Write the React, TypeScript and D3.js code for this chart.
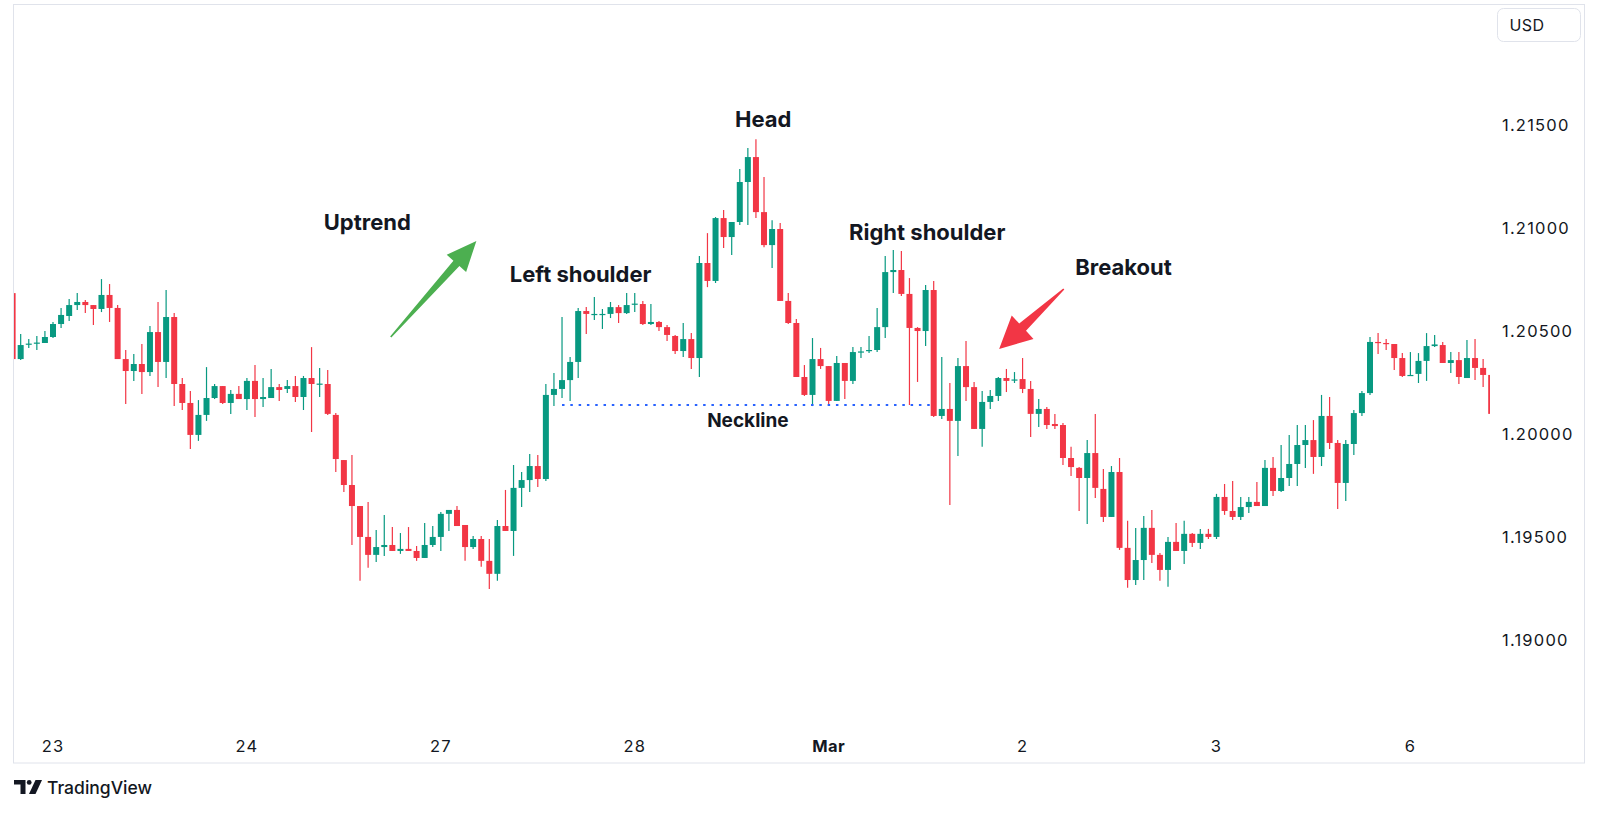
import * as d3 from "d3";

// hourly EURUSD-like candles
const opens = [
  1.20682, 1.20362, 1.20433, 1.20437, 1.2044, 1.20469, 1.20532, 1.20571, 1.20624, 1.20639,
  1.20624, 1.20605, 1.20673, 1.2061, 1.20362, 1.20304, 1.20338, 1.20299, 1.20493, 1.20348,
  1.20566, 1.20241, 1.20149, 1.19994, 1.20091, 1.20173, 1.20231, 1.20149, 1.20193, 1.20168,
  1.20256, 1.20168, 1.20173, 1.20226, 1.20217, 1.20231, 1.20178, 1.2027, 1.20239, 1.20241,
  1.20091, 1.19872, 1.19751, 1.19649, 1.19499, 1.19412, 1.1945, 1.1946, 1.19431, 1.19441,
  1.19431, 1.19397, 1.1946, 1.19499, 1.19611, 1.1963, 1.19557, 1.1945, 1.19489, 1.19383,
  1.1932, 1.19552, 1.19528, 1.19737, 1.19775, 1.19843, 1.1978, 1.20188, 1.20217, 1.2026,
  1.20348, 1.20595, 1.20576, 1.20576, 1.20581, 1.20614, 1.20585, 1.20627, 1.20629, 1.20532,
  1.20542, 1.20517, 1.20474, 1.20401, 1.20459, 1.20367, 1.20828, 1.20741, 1.21046, 1.20954,
  1.21027, 1.21221, 1.21342, 1.21075, 1.20915, 1.20993, 1.20644, 1.20537, 1.20275, 1.20188,
  1.20362, 1.20328, 1.20159, 1.20343, 1.20256, 1.20394, 1.20401, 1.20406, 1.20517, 1.20784,
  1.20794, 1.20678, 1.20513, 1.20498, 1.20697, 1.20086, 1.2012, 1.20062, 1.20328, 1.20226,
  1.20023, 1.20154, 1.20183, 1.2027, 1.20258, 1.20265, 1.20217, 1.20096, 1.2012, 1.20047,
  1.20042, 1.19882, 1.19834, 1.19785, 1.19906, 1.19732, 1.19596, 1.19814, 1.19446, 1.1929,
  1.19387, 1.19543, 1.19412, 1.19339, 1.19475, 1.19431, 1.19514, 1.1947, 1.19514, 1.19499,
  1.19693, 1.19625, 1.19596, 1.19644, 1.19669, 1.19649, 1.19834, 1.19722, 1.19785, 1.19853,
  1.19945, 1.19969, 1.19887, 1.20086, 1.19955, 1.19761, 1.1995, 1.201, 1.20197, 1.20445,
  1.2044, 1.20435, 1.20367, 1.2028, 1.2029, 1.20353, 1.20425, 1.2043, 1.20343, 1.20357,
  1.2027, 1.20367, 1.20319, 1.20285,
];
const highs = [
  1.20697, 1.20484, 1.20459, 1.20474, 1.20498, 1.20542, 1.2061, 1.20653, 1.20682, 1.20648,
  1.20624, 1.2075, 1.20726, 1.20624, 1.20406, 1.20387, 1.20435, 1.20522, 1.20639, 1.20697,
  1.20585, 1.2027, 1.20207, 1.20163, 1.20323, 1.20241, 1.20231, 1.20212, 1.20231, 1.2027,
  1.20333, 1.2027, 1.20314, 1.20241, 1.2026, 1.2028, 1.2028, 1.2042, 1.20319, 1.20309,
  1.201, 1.19872, 1.19897, 1.19649, 1.19669, 1.19533, 1.19606, 1.19547, 1.19518, 1.19547,
  1.19455, 1.19567, 1.19552, 1.1962, 1.1963, 1.19649, 1.19557, 1.19504, 1.19504, 1.19489,
  1.19581, 1.19727, 1.19848, 1.19814, 1.19902, 1.19897, 1.20241, 1.20294, 1.20566, 1.20372,
  1.2061, 1.20614, 1.20663, 1.20605, 1.20639, 1.20624, 1.20682, 1.20682, 1.20644, 1.20629,
  1.20547, 1.20527, 1.20479, 1.20537, 1.20488, 1.20862, 1.20973, 1.21051, 1.21085, 1.21027,
  1.21284, 1.21386, 1.21429, 1.21245, 1.21036, 1.21022, 1.20682, 1.20556, 1.20333, 1.20464,
  1.20416, 1.20328, 1.20377, 1.20343, 1.2042, 1.2042, 1.20474, 1.2061, 1.20862, 1.20891,
  1.20886, 1.20755, 1.20517, 1.20721, 1.20741, 1.20372, 1.20246, 1.20367, 1.2045, 1.20251,
  1.20207, 1.20212, 1.20275, 1.20314, 1.20299, 1.20367, 1.20256, 1.20168, 1.20129, 1.20096,
  1.20052, 1.19936, 1.19838, 1.19969, 1.20096, 1.19829, 1.19843, 1.19882, 1.19577, 1.19543,
  1.19601, 1.1963, 1.19421, 1.19499, 1.19567, 1.19577, 1.19518, 1.19538, 1.19538, 1.19708,
  1.19756, 1.19771, 1.19693, 1.19693, 1.19766, 1.19872, 1.19887, 1.19945, 1.19994, 1.20042,
  1.20042, 1.20066, 1.20188, 1.20178, 1.19969, 1.19969, 1.20115, 1.20207, 1.20469, 1.20488,
  1.20459, 1.20435, 1.20391, 1.20396, 1.20391, 1.20488, 1.20479, 1.20445, 1.20396, 1.20396,
  1.20454, 1.20459, 1.20362, 1.20285,
];
const lows = [
  1.20362, 1.20357, 1.20416, 1.20406, 1.2044, 1.20464, 1.20513, 1.20547, 1.206, 1.20585,
  1.20527, 1.2059, 1.20542, 1.20362, 1.20144, 1.20256, 1.20193, 1.2028, 1.20226, 1.2027,
  1.20134, 1.20115, 1.19926, 1.19965, 1.20062, 1.20168, 1.20144, 1.20096, 1.20168, 1.20115,
  1.20081, 1.20129, 1.20173, 1.20159, 1.20197, 1.20154, 1.20115, 1.20008, 1.20178, 1.20091,
  1.19814, 1.19717, 1.1946, 1.19286, 1.19349, 1.19378, 1.19407, 1.19431, 1.19417, 1.19431,
  1.19383, 1.19397, 1.1945, 1.19431, 1.19528, 1.19552, 1.19383, 1.19441, 1.19354, 1.19247,
  1.19286, 1.19528, 1.19407, 1.19644, 1.19717, 1.19741, 1.19771, 1.20134, 1.20173, 1.20159,
  1.2027, 1.20484, 1.20551, 1.20508, 1.20561, 1.20537, 1.20581, 1.2059, 1.20527, 1.20527,
  1.20498, 1.2045, 1.20387, 1.20372, 1.20314, 1.20275, 1.20711, 1.20731, 1.20901, 1.20867,
  1.21012, 1.21012, 1.21046, 1.20905, 1.20804, 1.20644, 1.20532, 1.20275, 1.20183, 1.20134,
  1.20314, 1.20139, 1.20159, 1.20168, 1.20241, 1.20367, 1.20391, 1.20396, 1.20464, 1.20682,
  1.20668, 1.20139, 1.20251, 1.20425, 1.20081, 1.20071, 1.19654, 1.19892, 1.20159, 1.20023,
  1.19936, 1.2012, 1.20159, 1.20202, 1.20246, 1.20197, 1.19984, 1.20032, 1.20023, 1.20023,
  1.19848, 1.19795, 1.19625, 1.19562, 1.19688, 1.19572, 1.19596, 1.19436, 1.19252, 1.19266,
  1.1929, 1.19373, 1.19286, 1.19257, 1.19431, 1.19368, 1.1945, 1.19441, 1.19489, 1.19489,
  1.19606, 1.19581, 1.19581, 1.19615, 1.19649, 1.19649, 1.19698, 1.19717, 1.19746, 1.19746,
  1.19834, 1.19805, 1.19843, 1.19926, 1.19635, 1.19674, 1.19897, 1.20086, 1.20188, 1.20387,
  1.20406, 1.20309, 1.20275, 1.2028, 1.20246, 1.20256, 1.2042, 1.20343, 1.20294, 1.20241,
  1.2027, 1.2026, 1.20226, 1.20096,
];
const closes = [
  1.20362, 1.2043, 1.20437, 1.20442, 1.20469, 1.20532, 1.20576, 1.20624, 1.20639, 1.20624,
  1.20605, 1.20673, 1.2061, 1.20362, 1.20304, 1.20338, 1.20299, 1.20493, 1.20348, 1.20566,
  1.20241, 1.20149, 1.19994, 1.20091, 1.20173, 1.20231, 1.20149, 1.20193, 1.20168, 1.20256,
  1.20168, 1.20178, 1.20226, 1.20212, 1.20231, 1.20178, 1.2027, 1.20241, 1.20243, 1.20096,
  1.19877, 1.19751, 1.19649, 1.19499, 1.19412, 1.1945, 1.1946, 1.19431, 1.19441, 1.19431,
  1.19397, 1.1946, 1.19499, 1.19611, 1.1963, 1.19552, 1.1945, 1.19489, 1.19383, 1.1932,
  1.19552, 1.19528, 1.19737, 1.19775, 1.19843, 1.1978, 1.20188, 1.20217, 1.2026, 1.20348,
  1.20595, 1.20581, 1.20581, 1.20581, 1.20614, 1.20585, 1.20624, 1.20631, 1.20532, 1.20542,
  1.20517, 1.20479, 1.20401, 1.20459, 1.20367, 1.20828, 1.20741, 1.21046, 1.20954, 1.21027,
  1.21221, 1.21342, 1.21075, 1.20915, 1.20993, 1.20644, 1.20537, 1.20275, 1.20188, 1.20362,
  1.20328, 1.20159, 1.20343, 1.20256, 1.20396, 1.20399, 1.20406, 1.20517, 1.20784, 1.20794,
  1.20678, 1.20513, 1.20498, 1.20697, 1.20086, 1.2012, 1.20062, 1.20328, 1.20226, 1.20023,
  1.20154, 1.20183, 1.2027, 1.20256, 1.20263, 1.20217, 1.20096, 1.2012, 1.20042, 1.20037,
  1.19882, 1.19838, 1.19785, 1.19906, 1.19737, 1.19596, 1.19814, 1.19446, 1.1929, 1.19387,
  1.19543, 1.19412, 1.19339, 1.19475, 1.19431, 1.19514, 1.1947, 1.19514, 1.19499, 1.19693,
  1.19625, 1.19596, 1.19644, 1.19669, 1.19649, 1.19834, 1.19722, 1.19785, 1.19853, 1.19945,
  1.19969, 1.19887, 1.20086, 1.19955, 1.19761, 1.1995, 1.201, 1.20197, 1.20445, 1.2044,
  1.20435, 1.20367, 1.2028, 1.20285, 1.20353, 1.20425, 1.20433, 1.20343, 1.20357, 1.20275,
  1.20367, 1.20319, 1.20285, 1.20096,
];

const dayLabels = ["23", "24", "27", "28", "Mar", "2", "3", "6"];
const dayTickIndex = [5, 29, 53, 77, 101, 125, 149, 173];
const priceTicks = [1.215, 1.21, 1.205, 1.2, 1.195, 1.19];

// pattern annotations, in bar index / price
const labels = [
  { text: "Uptrend", i: 43.9, p: 1.21027, size: 22 },
  { text: "Left shoulder", i: 70.3, p: 1.20775, size: 22 },
  { text: "Head", i: 92.9, p: 1.21526, size: 22 },
  { text: "Right shoulder", i: 113.2, p: 1.20978, size: 22 },
  { text: "Breakout", i: 137.5, p: 1.20808, size: 22 },
  { text: "Neckline", i: 91.0, p: 1.20062, size: 19 },
];
const neckline = { from: 68.0, to: 113.6, p: 1.20139 };
const arrows = [
  { from: [46.8, 1.20469], to: [57.4, 1.20935], color: "#4caf50", head: 30, hw: 13, sw: 4 },
  { from: [130.1, 1.20702], to: [122.1, 1.20411], color: "#f23645", head: 32, hw: 16, sw: 5 },
];

const W = 1600;
const H = 813;
const UP = "#089981";
const DOWN = "#f23645";
const FONT = "Inter, 'Noto Sans', sans-serif";

function arrowPath(x0: number, y0: number, x1: number, y1: number, hl: number, hw: number, sw: number) {
  const len = Math.hypot(x1 - x0, y1 - y0);
  const ux = (x1 - x0) / len;
  const uy = (y1 - y0) / len;
  const nx = -uy;
  const ny = ux;
  const bx = x1 - ux * hl;
  const by = y1 - uy * hl;
  const pts = [
    [x0 + nx * 0.8, y0 + ny * 0.8],
    [bx + nx * sw, by + ny * sw],
    [bx + nx * hw, by + ny * hw],
    [x1, y1],
    [bx - nx * hw, by - ny * hw],
    [bx - nx * sw, by - ny * sw],
    [x0 - nx * 0.8, y0 - ny * 0.8],
  ];
  return d3.line()(pts as [number, number][]) + "Z";
}

export default function App() {
  const x = d3.scaleLinear().domain([0, opens.length - 1]).range([12.6, 1491.2]);
  const y = d3.scaleLinear().domain([1.19, 1.215]).range([639.8, 124.5]);
  const bodyW = 6;

  return (
    <svg
      width={W}
      height={H}
      style={{ position: "absolute", left: 0, top: 0, display: "block", background: "#fff" }}
    >
      <defs>
        <clipPath id="plot">
          <rect x={14} y={5} width={1476} height={757} />
        </clipPath>
      </defs>
      <rect x={0} y={0} width={W} height={H} fill="#fff" />
      <rect x={13.5} y={4.5} width={1571} height={758.5} fill="none" stroke="#e0e3eb" strokeWidth={1} />

      <g clipPath="url(#plot)">
        {opens.map((o, i) => {
          const c = closes[i];
          const col = c >= o ? UP : DOWN;
          const cx = x(i);
          const top = y(Math.max(o, c));
          const bot = y(Math.min(o, c));
          return (
            <g key={i}>
              <line x1={cx} x2={cx} y1={y(highs[i])} y2={y(lows[i])} stroke={col} strokeWidth={1.2} />
              <rect x={cx - bodyW / 2} y={top} width={bodyW} height={Math.max(1.2, bot - top)} fill={col} />
            </g>
          );
        })}
      </g>

      <line
        x1={x(neckline.from)}
        x2={x(neckline.to)}
        y1={y(neckline.p)}
        y2={y(neckline.p)}
        stroke="#2962ff"
        strokeWidth={2}
        strokeDasharray="2.5 5.8"
      />

      {arrows.map((a, k) => (
        <path
          key={k}
          d={arrowPath(x(a.from[0]), y(a.from[1]), x(a.to[0]), y(a.to[1]), a.head, a.hw, a.sw)}
          fill={a.color}
        />
      ))}

      {labels.map((l) => (
        <text
          key={l.text}
          x={x(l.i)}
          y={y(l.p)}
          textAnchor="middle"
          dominantBaseline="central"
          fontFamily={FONT}
          fontWeight={700}
          fontSize={l.size}
          fill="#131722"
        >
          {l.text}
        </text>
      ))}

      {priceTicks.map((p) => (
        <text
          key={p}
          x={1502}
          y={y(p)}
          dominantBaseline="central"
          fontFamily={FONT}
          fontSize={16.5}
          letterSpacing={1.2}
          fill="#131722"
        >
          {p.toFixed(5)}
        </text>
      ))}

      {dayLabels.map((d, k) => (
        <text
          key={d}
          x={x(dayTickIndex[k])}
          y={752}
          textAnchor="middle"
          fontFamily={FONT}
          fontSize={16.5}
          letterSpacing={d === "Mar" ? 0.4 : 1.2}
          fontWeight={d === "Mar" ? 700 : 400}
          fill="#131722"
        >
          {d}
        </text>
      ))}

      <rect x={1497.5} y={8.5} width={83} height={33} rx={6} fill="#fff" stroke="#e0e3eb" />
      <text x={1527} y={25} textAnchor="middle" dominantBaseline="central" fontFamily={FONT} fontSize={16} letterSpacing={0.5} fill="#131722">
        USD
      </text>

      <g transform="translate(14,780)" fill="#131722">
        <path d="M0 0 H11.5 V14 H6.5 V4.6 H0 Z" />
        <circle cx={15.2} cy={2.4} r={2.4} />
        <path d="M21.5 0 H28 L21.5 14 H15 Z" />
      </g>
      <text x={47} y={794} fontFamily={FONT} fontSize={17.5} fontWeight={500} fill="#131722">
        TradingView
      </text>
    </svg>
  );
}
